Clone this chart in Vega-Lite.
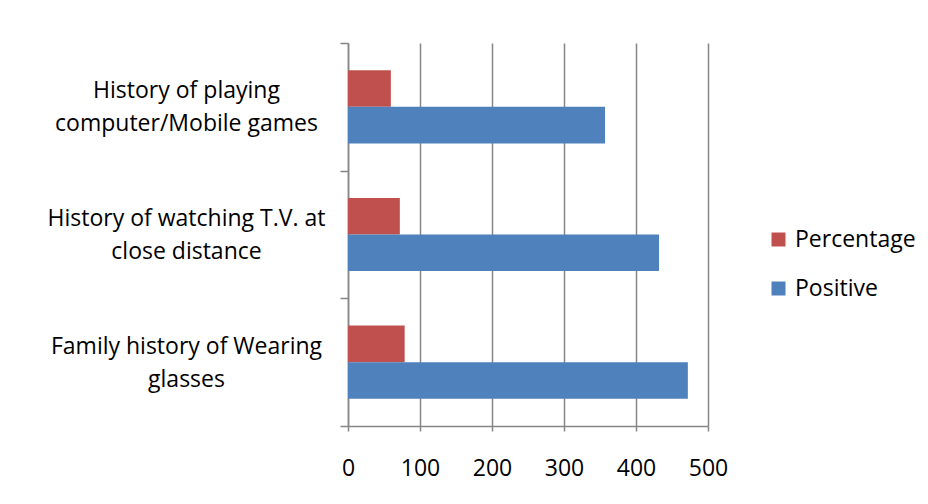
{
  "$schema": "https://vega.github.io/schema/vega-lite/v6.json",
  "autosize": {"type": "none"},
  "width": 360,
  "height": 383,
  "padding": {"left": 348, "top": 43, "right": 220, "bottom": 78},
  "background": "white",
  "data": {
    "values": [
      {"factor": "History of playing computer/Mobile games", "series": "Percentage", "value": 59.5},
      {"factor": "History of playing computer/Mobile games", "series": "Positive", "value": 357},
      {"factor": "History of watching T.V. at close distance", "series": "Percentage", "value": 72},
      {"factor": "History of watching T.V. at close distance", "series": "Positive", "value": 432},
      {"factor": "Family history of Wearing glasses", "series": "Percentage", "value": 78.7},
      {"factor": "Family history of Wearing glasses", "series": "Positive", "value": 472}
    ]
  },
  "mark": {"type": "bar"},
  "encoding": {
    "y": {
      "field": "factor",
      "type": "nominal",
      "sort": [
        "History of playing computer/Mobile games",
        "History of watching T.V. at close distance",
        "Family history of Wearing glasses"
      ],
      "scale": {"paddingInner": 0, "paddingOuter": 0},
      "axis": {
        "title": null,
        "tickBand": "extent",
        "tickSize": 8,
        "tickColor": "#868686",
        "tickWidth": 1.5,
        "domainColor": "#868686",
        "domainWidth": 1.5,
        "labelAlign": "center",
        "labelBaseline": "middle",
        "labelPadding": 154,
        "labelOffset": -16,
        "labelLineHeight": 33,
        "labelFont": "Open Sans",
        "labelFontSize": 23,
        "labelColor": "#000000",
        "labelLimit": 400,
        "labelExpr": "datum.label == 'History of playing computer/Mobile games' ? ['History of playing', 'computer/Mobile games'] : datum.label == 'History of watching T.V. at close distance' ? ['History of watching T.V. at', 'close distance'] : datum.label == 'Family history of Wearing glasses' ? ['Family history of Wearing', 'glasses'] : ''"
      }
    },
    "yOffset": {
      "field": "series",
      "type": "nominal",
      "sort": ["Percentage", "Positive"],
      "scale": {"paddingInner": 0, "paddingOuter": 0.746}
    },
    "x": {
      "field": "value",
      "type": "quantitative",
      "stack": null,
      "scale": {"domain": [0, 500], "nice": false},
      "axis": {
        "title": null,
        "values": [0, 100, 200, 300, 400, 500],
        "grid": true,
        "gridColor": "#868686",
        "gridWidth": 1.5,
        "tickSize": 5,
        "tickColor": "#868686",
        "tickWidth": 1.5,
        "domainColor": "#868686",
        "domainWidth": 1.5,
        "labelPadding": 26,
        "labelFont": "Open Sans",
        "labelFontSize": 23,
        "labelColor": "#000000",
        "labelFlush": false
      }
    },
    "color": {
      "field": "series",
      "type": "nominal",
      "sort": ["Percentage", "Positive"],
      "scale": {"domain": ["Percentage", "Positive"], "range": ["#C0504D", "#4F81BD"]},
      "legend": {
        "title": null,
        "orient": "none",
        "legendX": 419,
        "legendY": 185,
        "symbolType": "square",
        "symbolSize": 196,
        "symbolStrokeWidth": 0,
        "symbolOpacity": 1,
        "labelFont": "Open Sans",
        "labelFontSize": 23,
        "labelColor": "#000000",
        "labelOffset": 5,
        "rowPadding": 25
      }
    }
  },
  "config": {
    "view": {"stroke": null}
  }
}
